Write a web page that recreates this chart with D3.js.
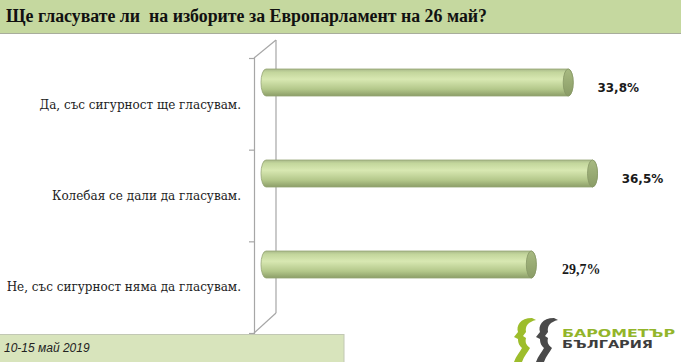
<!DOCTYPE html>
<html>
<head>
<meta charset="utf-8">
<script src="https://cdn.jsdelivr.net/npm/d3@7"></script>
<style>
  body { margin: 0; background: #fff; }
</style>
</head>
<body>
<svg id="chart" width="681" height="362"></svg>
<script>
//dimensions of the svg
var width = 681, height = 362;

//chart data
var categories = [
  'Да, със сигурност ще гласувам.',
  'Колебая се дали да гласувам.',
  'Не, със сигурност няма да гласувам.'
];
var values = [33.8, 36.5, 29.7];
var titleText = 'Ще гласувате ли  на изборите за Европарламент на 26 май?';
var footerText = '10-15 май 2019';

var rows = categories.map(function(c, i) { return {name: c, value: values[i]}; });

//3d depth of the frame (back wall is right/up of the front edge)
var depthX = 22, depthY = 18;

var svg = d3.select('#chart');

var defs = svg.append('defs');

var body = defs.append('linearGradient')
    .attr('id', 'barBody')
    .attr('x1', 0).attr('y1', 0).attr('x2', 0).attr('y2', 1);
body.append('stop').attr('offset', '0%').attr('stop-color', '#a9b98a');
body.append('stop').attr('offset', '12%').attr('stop-color', '#c3d69c');
body.append('stop').attr('offset', '38%').attr('stop-color', '#d8e8b2');
body.append('stop').attr('offset', '75%').attr('stop-color', '#b3c78a');
body.append('stop').attr('offset', '100%').attr('stop-color', '#8c9e68');

var cap = defs.append('linearGradient')
    .attr('id', 'barCap')
    .attr('x1', 0).attr('y1', 0).attr('x2', 0).attr('y2', 1);
cap.append('stop').attr('offset', '0%').attr('stop-color', '#a8ba82');
cap.append('stop').attr('offset', '100%').attr('stop-color', '#8a9c66');

//title bar
svg.append('rect')
    .attr('x', 0).attr('y', 0)
    .attr('width', width).attr('height', 33)
    .attr('fill', '#c5d89f');
svg.append('line')
    .attr('x1', 0).attr('x2', width)
    .attr('y1', 33.5).attr('y2', 33.5)
    .attr('stroke', '#a8ad9c');
svg.append('text')
    .attr('x', 6).attr('y', 22)
    .attr('textLength', 481)
    .attr('lengthAdjust', 'spacingAndGlyphs')
    .style('white-space', 'pre')
    .style('font-family', '"Liberation Serif", serif')
    .style('font-weight', 'bold')
    .style('font-size', '18px')
    .attr('fill', '#111')
    .text(titleText);

//scales
var x = d3.scaleLinear().domain([0, 40]).range([264, 624]);

var backTop = 40, backBottom = 313;
var y = d3.scaleBand()
    .domain(categories)
    .range([backTop, backBottom]);

var frontX = 254;
var boundary = d3.scaleLinear()
    .domain([0, categories.length])
    .range([backTop + depthY, backBottom + depthY + 2]);

//frame: back wall and diagonals
var frame = svg.append('g')
    .attr('fill', 'none')
    .attr('stroke', '#a6a6a6')
    .attr('stroke-width', 1.2);
frame.append('line')
    .attr('x1', frontX + depthX).attr('x2', frontX + depthX)
    .attr('y1', backTop).attr('y2', backBottom);
frame.append('line')
    .attr('x1', frontX).attr('y1', boundary(0))
    .attr('x2', frontX + depthX).attr('y2', backTop);
frame.append('line')
    .attr('x1', frontX).attr('y1', boundary(categories.length))
    .attr('x2', frontX + depthX).attr('y2', backBottom);

//front axis with ticks at band borders
var axis = svg.append('g')
    .attr('transform', 'translate(' + frontX + ',0)')
    .call(d3.axisLeft(boundary)
      .ticks(categories.length)
      .tickSize(5)
      .tickSizeOuter(5)
      .tickFormat(''));
axis.selectAll('path, line')
    .attr('stroke', '#a6a6a6')
    .attr('stroke-width', 1.2);

//category labels
svg.append('g')
    .selectAll('text')
    .data(rows)
    .enter().append('text')
    .attr('x', 241)
    .attr('y', function(d) { return y(d.name) + y.bandwidth() / 2 + depthY + 1; })
    .attr('dy', '0.35em')
    .attr('text-anchor', 'end')
    .style('font-family', '"DejaVu Serif", serif')
    .style('font-size', '12px')
    .attr('fill', '#222')
    .text(function(d) { return d.name; });

//cylinder bars
var barH = 27, rx = 5;
var bars = svg.append('g')
    .selectAll('g')
    .data(rows)
    .enter().append('g');

function barTop(d) { return y(d.name) + y.bandwidth() / 2 - 3 - barH / 2; }

bars.append('path')
    .attr('d', function(d) {
      var x0 = x(0) + 2, x1 = x(d.value), t = barTop(d), b = t + barH;
      return 'M' + x0 + ',' + t + 'L' + x1 + ',' + t +
        'A' + rx + ',' + (barH / 2) + ' 0 0 1 ' + x1 + ',' + b +
        'L' + x0 + ',' + b +
        'A' + rx + ',' + (barH / 2) + ' 0 0 1 ' + x0 + ',' + t + 'Z';
    })
    .attr('fill', 'url(#barBody)')
    .attr('stroke', '#94a474')
    .attr('stroke-width', 0.8);

bars.append('ellipse')
    .attr('cx', function(d) { return x(d.value); })
    .attr('cy', function(d) { return barTop(d) + barH / 2; })
    .attr('rx', rx)
    .attr('ry', barH / 2)
    .attr('fill', 'url(#barCap)')
    .attr('stroke', '#869766')
    .attr('stroke-width', 0.8);

//value labels
var fmt = d3.format('.1f');
bars.append('text')
    .attr('x', function(d) { return x(d.value) + 50; })
    .attr('y', function(d) { return barTop(d) + barH / 2 + 5; })
    .attr('dy', '0.35em')
    .attr('text-anchor', 'middle')
    .style('font-family', function(d, i) {
      return i == 2 ? '"Liberation Serif", serif' : '"DejaVu Sans", sans-serif';
    })
    .style('font-size', function(d, i) { return i == 2 ? '14px' : '12px'; })
    .style('font-weight', 'bold')
    .attr('fill', '#1a1a1a')
    .text(function(d) { return fmt(d.value).replace('.', ',') + '%'; });

//footer
svg.append('rect')
    .attr('x', -1).attr('y', 334.5)
    .attr('width', 345).attr('height', 30)
    .attr('fill', '#d8e4bc')
    .attr('stroke', '#c2c8b4');
svg.append('text')
    .attr('x', 4).attr('y', 352)
    .style('font-family', '"Liberation Sans", sans-serif')
    .style('font-style', 'italic')
    .style('font-size', '12px')
    .attr('fill', '#222')
    .text(footerText);

//logo
var face = 'M20,0 C8,0 4,8 6,14 L2,19 L6,21 C6,26 8,28 10,30 C8,34 4,38 2,44 L10,44 ' +
  'C12,38 16,34 18,30 C14,27 13,24 14,20 L11,18 L14,14 C13,8 16,4 24,2 Z';
var logo = svg.append('g').attr('transform', 'translate(512,318)');
logo.append('path').attr('d', face).attr('fill', '#9dbd2c');
logo.append('path').attr('d', face).attr('fill', '#4a4a4a')
    .attr('transform', 'translate(22,0)');
logo.append('text')
    .attr('x', 50).attr('y', 19)
    .attr('textLength', 113)
    .attr('lengthAdjust', 'spacingAndGlyphs')
    .style('font-family', '"DejaVu Sans", sans-serif')
    .style('font-weight', 'bold')
    .style('font-size', '10px')
    .attr('fill', '#93b52a')
    .text('БАРОМЕТЪР');
logo.append('text')
    .attr('x', 50).attr('y', 30)
    .attr('textLength', 91)
    .attr('lengthAdjust', 'spacingAndGlyphs')
    .style('font-family', '"DejaVu Sans", sans-serif')
    .style('font-weight', 'bold')
    .style('font-size', '10px')
    .attr('fill', '#3d3d3d')
    .text('БЪЛГАРИЯ');
</script>
</body>
</html>
